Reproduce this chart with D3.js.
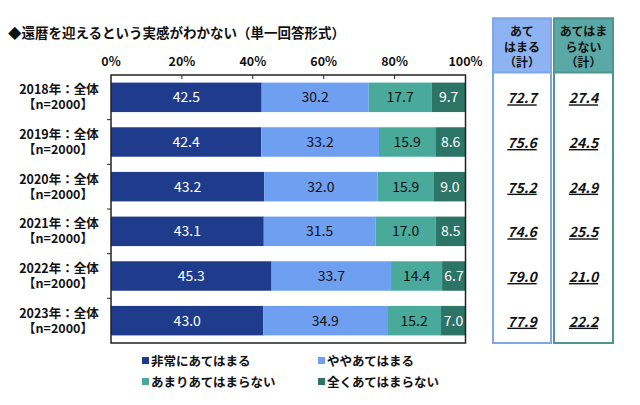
<!DOCTYPE html>
<html><head><meta charset="utf-8">
<script src="https://cdn.jsdelivr.net/npm/d3@7"></script>
<style>
body{margin:0;background:#fff;}
svg{display:block;}
text{font-family:"Noto Sans CJK JP","Noto Sans",sans-serif;}
</style></head>
<body>
<svg id="c" width="640" height="405"></svg>
<script>
const categories = ["2018年：全体","2019年：全体","2020年：全体","2021年：全体","2022年：全体","2023年：全体"];
const sampleLabels = ["【n=2000】","【n=2000】","【n=2000】","【n=2000】","【n=2000】","【n=2000】"];
const seriesNames = ["非常にあてはまる","ややあてはまる","あまりあてはまらない","全くあてはまらない"];
const s1 = [42.5,42.4,43.2,43.1,45.3,43.0];
const s2 = [30.2,33.2,32.0,31.5,33.7,34.9];
const s3 = [17.7,15.9,15.9,17.0,14.4,15.2];
const s4 = [9.7,8.6,9.0,8.5,6.7,7.0];
const totalApply = [72.7,75.6,75.2,74.6,79.0,77.9];
const totalNotApply = [27.4,24.5,24.9,25.5,21.0,22.2];
const xTicks = [0,20,40,60,80,100];
const title = "◆還暦を迎えるという実感がわかない（単一回答形式）";

const colors = ["#1f3c8c","#6f9ff0","#49aa9c","#2b7466"];
const textColors = ["#ffffff","#111111","#111111","#ffffff"];

const svg = d3.select("#c");
const L=111, R=465.5, T=75, B=343;
const x = d3.scaleLinear().domain([0,100]).range([L,R]);
const y = d3.scaleBand().domain(categories).range([T,B]).paddingInner(0.34).paddingOuter(0.17);
const yb = d3.scaleBand().domain(categories).range([T,B]);

svg.append("text").attr("x",8).attr("y",38).attr("font-size",13.5).attr("font-weight","bold").attr("fill","#111").text(title);

// tick labels
svg.append("g").selectAll("text").data(xTicks).join("text")
  .attr("x",d=>x(d)).attr("y",66).attr("text-anchor","middle")
  .attr("font-size",12.5).attr("font-weight","bold").attr("fill","#111")
  .attr("font-family","Liberation Sans, Arial, sans-serif")
  .text(d=>d+"%");

// bars
const series = [s1,s2,s3,s4];
const g = svg.append("g");
categories.forEach((c,i)=>{
  let acc=0;
  series.forEach((s,k)=>{
    const v=s[i];
    g.append("rect").attr("x",x(acc)).attr("y",y(c)).attr("width",x(acc+v)-x(acc)).attr("height",y.bandwidth()).attr("fill",colors[k]);
    g.append("text").attr("x",(x(acc)+x(acc+v))/2).attr("y",y(c)+y.bandwidth()/2+5)
      .attr("text-anchor","middle").attr("font-size",14).attr("fill",textColors[k])
      .attr("font-family","Liberation Sans, Arial, sans-serif")
      .text(v.toFixed(1));
    acc+=v;
  });
});

// frame
svg.append("rect").attr("x",L).attr("y",T).attr("width",R-L).attr("height",B-T).attr("fill","none").attr("stroke","#222").attr("stroke-width",1.5);
// top ticks
svg.append("g").selectAll("line").data(xTicks.slice(1,-1)).join("line")
  .attr("x1",d=>x(d)).attr("x2",d=>x(d)).attr("y1",T).attr("y2",T+4).attr("stroke","#222");
// left ticks
svg.append("g").selectAll("line").data(categories.slice(1)).join("line")
  .attr("x1",L-4).attr("x2",L).attr("y1",d=>yb(d)).attr("y2",d=>yb(d)).attr("stroke","#222");

// category labels
categories.forEach((c,i)=>{
  const cy = yb(c)+yb.bandwidth()/2;
  const t = svg.append("text").attr("text-anchor","middle").attr("font-size",12.5).attr("font-weight","bold").attr("fill","#111");
  t.append("tspan").attr("x",59).attr("y",cy-3).text(c);
  t.append("tspan").attr("x",58).attr("y",cy+12).text(sampleLabels[i]);
});

// right panels
const panels = [
  {x0:493,x1:551,fill:"#8db3f2",stroke:"#7fa6e6",lines:["あて","はまる","（計）"],vals:totalApply},
  {x0:554,x1:613,fill:"#5aa9a6",stroke:"#4f9592",lines:["あてはま","らない","（計）"],vals:totalNotApply}
];
panels.forEach(p=>{
  svg.append("rect").attr("x",p.x0).attr("y",18.5).attr("width",p.x1-p.x0).attr("height",B-18.5).attr("fill","#fff").attr("stroke",p.stroke).attr("stroke-width",2);
  svg.append("rect").attr("x",p.x0).attr("y",18.5).attr("width",p.x1-p.x0).attr("height",54).attr("fill",p.fill).attr("stroke",p.stroke).attr("stroke-width",2);
  const cx=(p.x0+p.x1)/2;
  const ht = svg.append("text").attr("text-anchor","middle").attr("font-size",12).attr("font-weight","bold").attr("fill","#111");
  p.lines.forEach((t,j)=>{
    ht.append("tspan").attr("x",cx).attr("y",36+j*15.5).text(t);
  });
  categories.forEach((c,i)=>{
    const cy = yb(c)+yb.bandwidth()/2;
    svg.append("text").attr("x",cx).attr("y",cy+6).attr("text-anchor","middle").attr("font-size",14).attr("font-weight","bold")
      .attr("font-family","Liberation Sans, Arial, sans-serif").attr("font-style","italic")
      .attr("text-decoration","underline").attr("fill","#111").text(p.vals[i].toFixed(1));
  });
});

// legend
const legPos = [[142,361],[318,361],[142,382],[318,382]];
seriesNames.forEach((n,k)=>{
  const [lx,ly]=legPos[k];
  svg.append("rect").attr("x",lx).attr("y",ly-4).attr("width",7).attr("height",7).attr("fill",colors[k]);
  svg.append("text").attr("x",lx+9).attr("y",ly+5).attr("font-size",12.5).attr("font-weight","bold").attr("fill","#111").text(n);
});
</script>
</body></html>
